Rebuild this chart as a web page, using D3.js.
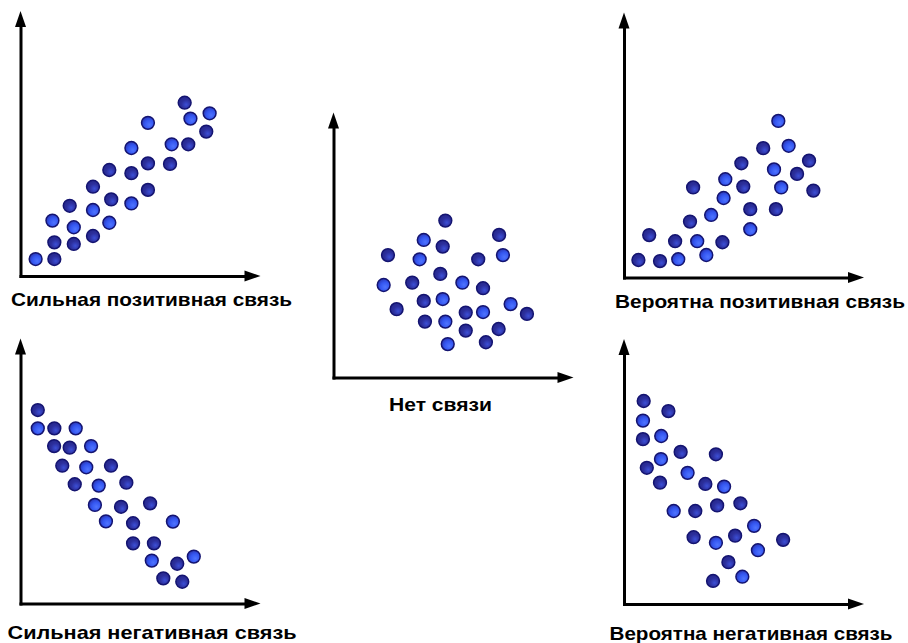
<!DOCTYPE html>
<html><head><meta charset="utf-8">
<script src="https://cdn.jsdelivr.net/npm/d3@7"></script>
<style>html,body{margin:0;padding:0;background:#fff;}svg{display:block;}</style>
</head><body>
<script>
// Panel titles
const titles = ["Сильная позитивная связь","Нет связи","Вероятна позитивная связь","Сильная негативная связь","Вероятна негативная связь"];

// Scatter data, values in 0..100 units of each panel's axes
const strongPosX = [6.3,14.1,14.1,13.3,22.2,22.2,20.5,30.2,30.2,30.2,37.0,37.8,37.0,46.2,46.2,46.2,53.1,53.1,53.1,62.3,63.0,69.9,68.4,70.8,77.4,78.8];
const strongPosY = [6.4,6.4,12.7,20.9,12.1,18.4,26.5,15.1,24.9,33.7,20.1,28.9,40.0,27.4,38.8,48.3,32.5,42.5,57.8,42.3,49.7,49.7,65.4,59.4,54.5,61.4];

const noneX = [46.6,37.6,45.5,69.0,70.6,22.7,35.9,60.3,44.5,20.9,32.8,53.7,62.3,37.6,45.5,26.3,73.8,80.6,55.1,62.3,38.1,46.6,55.1,68.8,47.6,63.5];
const noneY = [59.2,51.9,49.4,53.8,46.2,46.2,44.6,44.6,39.1,34.9,35.8,35.8,33.7,28.9,29.6,25.8,27.7,24.0,24.5,24.7,21.1,21.1,17.7,18.3,12.6,13.3];

const likelyPosX = [64.3,58.0,68.6,48.9,77.1,62.5,72.1,42.2,28.8,49.7,65.5,78.9,41.5,52.6,63.3,36.3,27.5,52.6,10.5,21.3,30.5,41.0,34.3,6.0,15.0,22.6];
const likelyPosY = [59.1,48.8,49.7,43.1,44.1,40.8,39.1,37.1,34.0,34.3,34.0,32.8,30.0,25.8,25.8,23.6,21.1,18.2,16.0,13.7,13.7,13.3,8.5,6.6,6.2,6.9];

const strongNegX = [7.2,7.2,14.1,23.0,14.0,20.5,29.4,17.4,27.4,37.7,22.6,32.6,44.1,31.0,41.9,54.0,35.6,46.9,63.5,46.9,55.6,54.7,65.3,72.2,59.5,67.4];
const strongNegY = [73.0,66.1,66.1,66.1,59.4,58.8,59.4,52.0,51.4,52.0,45.0,44.5,45.6,37.2,36.5,37.8,31.0,30.3,30.9,22.7,22.7,16.2,15.0,17.7,9.5,8.2];

const likelyNegX = [8.2,18.5,7.9,7.9,15.5,23.6,38.3,15.4,9.5,26.5,15.0,33.9,41.7,48.5,20.7,29.7,38.8,54.2,29.0,38.3,46.3,66.3,55.8,43.5,49.3,37.1];
const likelyNegY = [76.6,72.8,69.2,62.2,63.4,57.4,56.5,54.7,51.4,49.5,45.8,45.3,44.3,38.0,35.1,35.1,37.2,29.5,25.2,23.1,25.8,24.2,20.3,15.8,10.3,8.7];

const seriesX = [strongPosX, noneX, likelyPosX, strongNegX, likelyNegX];
const seriesY = [strongPosY, noneY, likelyPosY, strongNegY, likelyNegY];

// Layout (origins of each panel, label offsets and widths)
const origins = [[20.5,276],[333.5,377.5],[624,277.5],[20.5,603.5],[624,604]];
const labelOff = [[131,30],[107,33],[136,30],[131.5,35],[127,36]];
const labelLen = [281,103,290,289,283];
const W = 240, H = 265;

const svg = d3.select("body").append("svg").attr("width",908).attr("height",643);
const defs = svg.append("defs");

function grad(id, c0, c1, c2){
  const g = defs.append("radialGradient").attr("id",id)
    .attr("cx","60%").attr("cy","62%").attr("r","65%").attr("fx","62%").attr("fy","66%");
  g.append("stop").attr("offset","0%").attr("stop-color",c0);
  g.append("stop").attr("offset","55%").attr("stop-color",c1);
  g.append("stop").attr("offset","100%").attr("stop-color",c2);
}
grad("gBright","#4f74ff","#3456f0","#2a34b0");
grad("gDark","#3c4fd6","#2c2f9c","#24268a");

const x = d3.scaleLinear().domain([0,100]).range([0,W]);
const y = d3.scaleLinear().domain([0,100]).range([H,0]);

origins.forEach((o,i)=>{
  const g = svg.append("g").attr("transform",`translate(${o[0]},${o[1]})`);
  const xa = d3.scaleLinear().domain([0,100]).range([0,W-14]);
  const ya = d3.scaleLinear().domain([0,100]).range([0,-(H-14)]);
  const ax = g.append("g").call(d3.axisBottom(xa).ticks(0).tickSizeOuter(0));
  const ay = g.append("g").call(d3.axisLeft(ya).ticks(0).tickSizeOuter(0));
  [ax,ay].forEach(a=>a.select(".domain").attr("stroke","#000").attr("stroke-width",3).attr("stroke-linecap","square"));
  // arrowheads
  g.append("path").attr("d",`M${x(100)},0 L${x(100)-16},-5.5 L${x(100)-16},5.5 Z`).attr("fill","#000");
  g.append("path").attr("d",`M0,${y(100)-H} L-5.5,${y(100)-H+16} L5.5,${y(100)-H+16} Z`).attr("fill","#000");

  const pts = seriesX[i].map((v,k)=>({x:v,y:seriesY[i][k]}));
  g.selectAll("circle").data(pts).join("circle")
    .attr("cx",d=>x(d.x)).attr("cy",d=>y(d.y)-H)
    .attr("r",6.4)
    .attr("fill",(d,k)=> ((k*7+i*3)%5<2) ? "url(#gBright)" : "url(#gDark)")
    .attr("stroke","#141470").attr("stroke-width",1.5);

  g.append("text").attr("x",labelOff[i][0]).attr("y",labelOff[i][1])
    .attr("text-anchor","middle")
    .attr("font-family","Liberation Sans, Arial, sans-serif")
    .attr("font-weight","bold").attr("font-size",18.5).attr("fill","#000")
    .attr("textLength",labelLen[i]).attr("lengthAdjust","spacingAndGlyphs")
    .text(titles[i]);
});
</script>
</body></html>
